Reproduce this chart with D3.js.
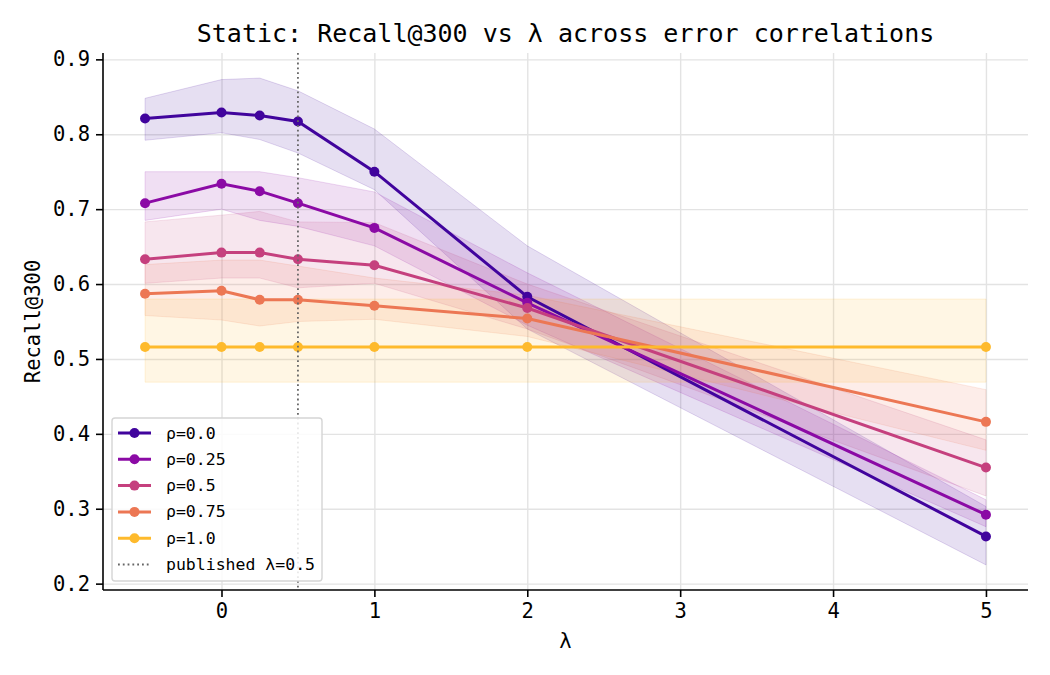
<!DOCTYPE html>
<html>
<head>
<meta charset="utf-8">
<script src="https://cdn.jsdelivr.net/npm/d3@7"></script>
<style>
  body { margin: 0; background: #fff; }
  svg { font-family: "DejaVu Sans Mono", monospace; }
  .grid line { stroke: #e3e3e3; stroke-width: 1.4; }
  .grid path { display: none; }
</style>
</head>
<body>
<script>
// Datos
var lambdas = [-0.5, 0, 0.25, 0.5, 1, 2, 5];
var rhoLabels = ["ρ=0.0", "ρ=0.25", "ρ=0.5", "ρ=0.75", "ρ=1.0"];
var rhoColorPos = [0.1, 0.2875, 0.475, 0.6625, 0.85];

var meanRho00 = [0.821, 0.829, 0.825, 0.817, 0.750, 0.583, 0.263];
var lowRho00  = [0.792, 0.802, 0.793, 0.775, 0.726, 0.540, 0.225];
var highRho00 = [0.848, 0.873, 0.875, 0.858, 0.807, 0.651, 0.303];

var meanRho025 = [0.708, 0.734, 0.724, 0.708, 0.675, 0.575, 0.292];
var lowRho025  = [0.685, 0.700, 0.685, 0.677, 0.651, 0.545, 0.276];
var highRho025 = [0.750, 0.750, 0.750, 0.742, 0.723, 0.615, 0.312];

var meanRho05 = [0.633, 0.642, 0.642, 0.633, 0.625, 0.568, 0.355];
var lowRho05  = [0.601, 0.608, 0.608, 0.595, 0.601, 0.540, 0.317];
var highRho05 = [0.683, 0.692, 0.697, 0.683, 0.682, 0.600, 0.392];

var meanRho075 = [0.587, 0.591, 0.579, 0.579, 0.571, 0.554, 0.416];
var lowRho075  = [0.558, 0.552, 0.544, 0.550, 0.553, 0.530, 0.378];
var highRho075 = [0.626, 0.632, 0.632, 0.624, 0.608, 0.585, 0.459];

var meanRho10 = [0.516, 0.516, 0.516, 0.516, 0.516, 0.516, 0.516];
var lowRho10  = [0.469, 0.469, 0.469, 0.469, 0.469, 0.469, 0.469];
var highRho10 = [0.580, 0.580, 0.580, 0.580, 0.580, 0.580, 0.580];

var xTicks = [0, 1, 2, 3, 4, 5];
var yTicks = [0.2, 0.3, 0.4, 0.5, 0.6, 0.7, 0.8, 0.9];
var publishedLambda = 0.5;

var series = [
  {label: rhoLabels[0], mean: meanRho00, low: lowRho00, high: highRho00},
  {label: rhoLabels[1], mean: meanRho025, low: lowRho025, high: highRho025},
  {label: rhoLabels[2], mean: meanRho05, low: lowRho05, high: highRho05},
  {label: rhoLabels[3], mean: meanRho075, low: lowRho075, high: highRho075},
  {label: rhoLabels[4], mean: meanRho10, low: lowRho10, high: highRho10}
];
series.forEach(function(s, i) { s.color = d3.interpolatePlasma(rhoColorPos[i]); });

// Lienzo
var W = 1050, H = 675;
var margin = {top: 53, right: 22, bottom: 85, left: 103},
    width = W - margin.left - margin.right,
    height = H - margin.top - margin.bottom;

var svg = d3.select("body").append("svg")
    .attr("width", W).attr("height", H);
var g = svg.append("g")
    .attr("transform", "translate(" + margin.left + "," + margin.top + ")");

var x = d3.scaleLinear().domain([-0.775, 5.275]).range([0, width]);
var y = d3.scaleLinear().domain([0.1915, 0.9085]).range([height, 0]);

// Rejilla
g.append("g").attr("class", "grid")
    .attr("transform", "translate(0," + height + ")")
    .call(d3.axisBottom(x).tickValues(xTicks).tickSize(-height).tickFormat(""));
g.append("g").attr("class", "grid")
    .call(d3.axisLeft(y).tickValues(yTicks).tickSize(-width).tickFormat(""));

// Bandas
var area = d3.area()
    .x(function(d) { return x(d.x); })
    .y0(function(d) { return y(d.lo); })
    .y1(function(d) { return y(d.hi); });
var line = d3.line()
    .x(function(d) { return x(d.x); })
    .y(function(d) { return y(d.v); });

series.forEach(function(s) {
  var pts = lambdas.map(function(l, i) { return {x: l, v: s.mean[i], lo: s.low[i], hi: s.high[i]}; });
  s.pts = pts;
  g.append("path")
      .attr("d", area(pts))
      .attr("fill", s.color).attr("fill-opacity", 0.13)
      .attr("stroke", s.color).attr("stroke-opacity", 0.15).attr("stroke-width", 1);
});

series.forEach(function(s) {
  g.append("path")
      .attr("d", line(s.pts))
      .attr("fill", "none").attr("stroke", s.color).attr("stroke-width", 3);
  g.selectAll(null).data(s.pts).enter().append("circle")
      .attr("cx", function(d) { return x(d.x); })
      .attr("cy", function(d) { return y(d.v); })
      .attr("r", 5).attr("fill", s.color);
});

// Línea vertical publicada
g.append("line")
    .attr("x1", x(publishedLambda)).attr("x2", x(publishedLambda))
    .attr("y1", 0).attr("y2", height)
    .attr("stroke", "#666").attr("stroke-width", 1.8)
    .attr("stroke-dasharray", "1.8,3");

// Ejes
var xAxis = g.append("g")
    .attr("transform", "translate(0," + height + ")")
    .call(d3.axisBottom(x).tickValues(xTicks).tickSize(7).tickPadding(6).tickFormat(d3.format("d")));
var yAxis = g.append("g")
    .call(d3.axisLeft(y).tickValues(yTicks).tickSize(7).tickPadding(6).tickFormat(d3.format(".1f")));
[xAxis, yAxis].forEach(function(a) {
  a.selectAll("text").style("font-family", "DejaVu Sans Mono").style("font-size", "20.5px").attr("fill", "#000");
  a.selectAll("line").attr("stroke", "#000").attr("stroke-width", 1.6);
  a.select(".domain").attr("stroke", "#000").attr("stroke-width", 1.6);
});
xAxis.select(".domain").attr("d", "M0,0H" + width);
yAxis.select(".domain").attr("d", "M0,0V" + height);

// Títulos
svg.append("text")
    .attr("x", margin.left + width / 2).attr("y", 42)
    .attr("text-anchor", "middle")
    .style("font-size", "25px").text("Static: Recall@300 vs λ across error correlations");
svg.append("text")
    .attr("x", margin.left + width / 2).attr("y", 648)
    .attr("text-anchor", "middle")
    .style("font-size", "20.5px").text("λ");
svg.append("text")
    .attr("transform", "translate(40," + (margin.top + height / 2) + ") rotate(-90)")
    .attr("text-anchor", "middle")
    .style("font-size", "20.5px").text("Recall@300");

// Leyenda
var leg = g.append("g").attr("transform", "translate(9,365)");
leg.append("rect")
    .attr("width", 210).attr("height", 163).attr("rx", 3)
    .attr("fill", "#fff").attr("fill-opacity", 0.85)
    .attr("stroke", "#d5d5d5").attr("stroke-width", 1.4);
var items = series.map(function(s) { return {label: s.label, color: s.color, dotted: false}; });
items.push({label: "published λ=0.5", color: "#666", dotted: true});
items.forEach(function(it, i) {
  var yy = 15 + i * 26.3;
  var row = leg.append("g").attr("transform", "translate(0," + yy + ")");
  row.append("line").attr("x1", 6).attr("x2", 39).attr("y1", 0).attr("y2", 0)
      .attr("stroke", it.color).attr("stroke-width", it.dotted ? 1.8 : 3)
      .attr("stroke-dasharray", it.dotted ? "1.8,3" : null);
  if (!it.dotted) row.append("circle").attr("cx", 22.5).attr("cy", 0).attr("r", 5).attr("fill", it.color);
  row.append("text").attr("x", 54).attr("y", 5.5).style("font-size", "16.5px").text(it.label);
});
</script>
</body>
</html>
